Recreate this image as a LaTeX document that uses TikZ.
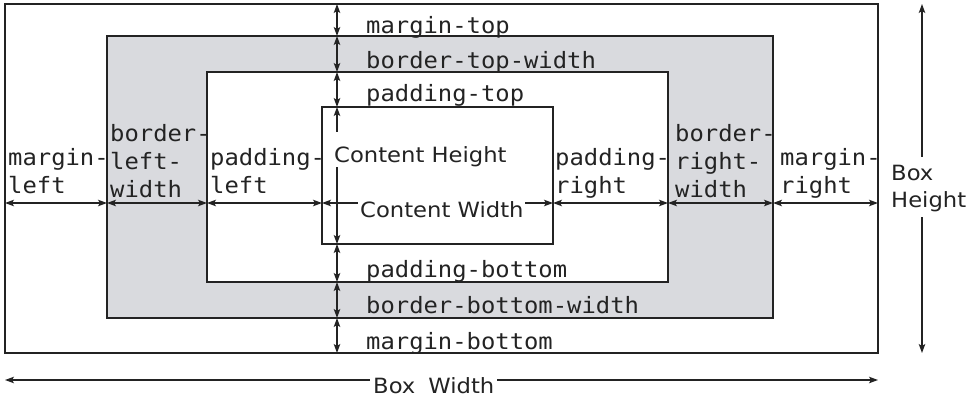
\documentclass[tikz,border=0pt]{standalone}
\usepackage{fontspec}
\usetikzlibrary{arrows.meta}
\newfontfamily\monof[FakeStretch=1.06]{DejaVu Sans Mono}
\newfontfamily\sansf[FakeStretch=1.08]{DejaVu Sans}
\definecolor{bordergray}{RGB}{217,218,222}
\definecolor{ink}{RGB}{35,35,35}
\begin{document}
\begin{tikzpicture}[x=1pt,y=-1pt,
  boxline/.style={draw=ink, line width=1.4pt},
  tipst/.tip={Stealth[length=9pt,width=6.5pt,inset=2pt]},
  dim/.style={draw=ink, line width=1.1pt, tipst-tipst},
  dimstart/.style={draw=ink, line width=1.1pt, tipst-},
  dimend/.style={draw=ink, line width=1.1pt, -tipst},
  mlabel/.style={inner sep=0pt, anchor=base west, text=ink, font=\monof\fontsize{22.5}{28}\selectfont},
  slabel/.style={inner sep=0pt, anchor=base west, text=ink, font=\sansf\fontsize{21}{27}\selectfont}
]
\useasboundingbox (0,0) rectangle (975,397);
% box corners
\coordinate (mTL) at (5,4);     \coordinate (mBR) at (878,353);
\coordinate (bTL) at (107,36);  \coordinate (bBR) at (773,318);
\coordinate (pTL) at (207,72);  \coordinate (pBR) at (668,282);
\coordinate (cTL) at (322,107); \coordinate (cBR) at (553,244);
% guides
\coordinate (vx) at (337,0);
\coordinate (hy) at (0,203);
% boxes
\draw[boxline] (mTL) rectangle (mBR);
\draw[boxline, fill=bordergray] (bTL) rectangle (bBR);
\draw[boxline, fill=white] (pTL) rectangle (pBR);
\draw[boxline, fill=white] (cTL) rectangle (cBR);
% vertical dimension arrows
\draw[dim] (mTL -| vx) -- (bTL -| vx);
\draw[dim] (bTL -| vx) -- (pTL -| vx);
\draw[dim] (pTL -| vx) -- (cTL -| vx);
\draw[dim] (cBR -| vx) -- (pBR -| vx);
\draw[dim] (pBR -| vx) -- (bBR -| vx);
\draw[dim] (bBR -| vx) -- (mBR -| vx);
% horizontal dimension arrows
\draw[dim] (hy -| mTL) -- (hy -| bTL);
\draw[dim] (hy -| bTL) -- (hy -| pTL);
\draw[dim] (hy -| pTL) -- (hy -| cTL);
\draw[dim] (hy -| cBR) -- (hy -| pBR);
\draw[dim] (hy -| pBR) -- (hy -| bBR);
\draw[dim] (hy -| bBR) -- (hy -| mBR);
% vertical labels
\node[mlabel] (mt) at (366,33) {margin-top};
\node[mlabel] (bt) at (366,68) {border-top-width};
\node[mlabel] (pt) at (366,101) {padding-top};
\node[mlabel] (pb) at (366,277) {padding-bottom};
\node[mlabel] (bb) at (366,313) {border-bottom-width};
\node[mlabel] (mb) at (366,349) {margin-bottom};
% horizontal labels
\node[mlabel] (ml) at (8,165) {\begin{tabular}[t]{@{}l@{}}margin-\\left\end{tabular}};
\node[mlabel] (bl) at (110,141) {\begin{tabular}[t]{@{}l@{}}border-\\left-\\width\end{tabular}};
\node[mlabel] (pl) at (210,165) {\begin{tabular}[t]{@{}l@{}}padding-\\left\end{tabular}};
\node[mlabel] (pr) at (555,165) {\begin{tabular}[t]{@{}l@{}}padding-\\right\end{tabular}};
\node[mlabel] (br) at (675,141) {\begin{tabular}[t]{@{}l@{}}border-\\right-\\width\end{tabular}};
\node[mlabel] (mr) at (780,165) {\begin{tabular}[t]{@{}l@{}}margin-\\right\end{tabular}};
% content height
\node[slabel] (ch) at (334,162) {Content Height};
\coordinate (chA) at (337,132);
\coordinate (chB) at (337,167);
\draw[dimstart] (cTL -| vx) -- (chA);
\draw[dimend] (chB) -- (cBR -| vx);
% content width
\node[slabel] (cw) at (360,217) {Content Width};
\coordinate (cwA) at (358,203);
\coordinate (cwB) at (525,203);
\draw[dimstart] (cTL |- cwA) -- (cwA);
\draw[dimend] (cwB) -- (cBR |- cwB);
% box height
\node[slabel] (bh) at (891,180) {\begin{tabular}[t]{@{}l@{}}Box\\Height\end{tabular}};
\coordinate (bhx) at (922,0);
\coordinate (bhA) at (922,157);
\coordinate (bhB) at (922,217);
\draw[dimstart] (mTL -| bhx) -- (bhA);
\draw[dimend] (bhB) -- (mBR -| bhx);
% box width
\node[slabel] (bw) at (373,393) {Box\hspace{13pt}Width};
\coordinate (bwy) at (0,380);
\coordinate (bwA) at (370,380);
\coordinate (bwB) at (497,380);
\draw[dimstart] (bwy -| mTL) -- (bwA);
\draw[dimend] (bwB) -- (bwy -| mBR);
\end{tikzpicture}
\end{document}
